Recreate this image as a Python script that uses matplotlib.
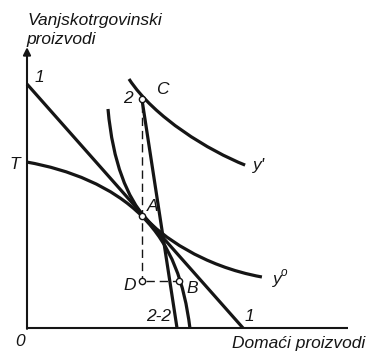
import matplotlib
matplotlib.use("Agg")
import matplotlib.pyplot as plt
from matplotlib.path import Path
from matplotlib.patches import PathPatch

INK = "#151515"

# Production possibility frontier T (cubic Bezier control points, two segments)
ppf_T = [(0.0, 5.53), (1.4, 5.28), (2.83, 4.73), (3.83, 3.73),
         (4.83, 2.73), (5.24, 1.5), (5.43, 0.0)]
# Indifference curve y0 (two cubic segments)
indiff_y0 = [(2.7, 7.3), (2.86, 5.5), (3.35, 4.34), (3.95, 3.66),
             (4.45, 3.095), (5.83, 2.06), (7.83, 1.7)]
# Indifference curve y' (one cubic segment)
indiff_y1 = [(3.4, 8.3), (4.25, 7.0), (6.07, 5.91), (7.27, 5.43)]

# Price lines
line_11 = [(0.0, 8.13), (7.2, 0.0)]
line_22 = [(3.83, 7.63), (5.0, 0.0)]

# Marked points
pt_C = (3.83, 7.63)
pt_A = (3.83, 3.73)
pt_D = (3.83, 1.57)
pt_B = (5.07, 1.57)

# Labels: text, x, y, size
labels = [
    ("1", 0.4, 8.35, 12.5),
    ("T", -0.42, 5.45, 12.5),
    ("2", 3.35, 7.65, 12.5),
    ("C", 4.5, 7.95, 12.5),
    ("y'", 7.75, 5.4, 12.5),
    ("A", 4.18, 4.05, 12.5),
    ("y", 8.33, 1.6, 12.5),
    ("o", 8.55, 1.84, 8.5),
    ("B", 5.5, 1.3, 12.5),
    ("D", 3.42, 1.4, 12.5),
    ("2-2", 4.4, 0.37, 12.5),
    ("1", 7.4, 0.37, 12.5),
    ("0", -0.23, -0.45, 12.5),
]

fig = plt.figure(figsize=(3.73, 3.54), dpi=100)
ax = fig.add_axes([0, 0, 1, 1])
ax.set_xlim(-0.9, 11.533)
ax.set_ylim(-0.867, 10.933)
ax.axis("off")

def bezier(points, lw):
    codes = [Path.MOVETO] + [Path.CURVE4] * (len(points) - 1)
    patch = PathPatch(Path(points, codes), facecolor="none", edgecolor=INK,
                      lw=lw, capstyle="butt")
    ax.add_patch(patch)

curve_lw = 2.3
bezier(ppf_T, curve_lw)
bezier(indiff_y0, curve_lw)
bezier(indiff_y1, curve_lw)

ax.plot(*zip(*line_11), color=INK, lw=curve_lw, solid_capstyle="butt")
ax.plot(*zip(*line_22), color=INK, lw=curve_lw, solid_capstyle="butt")

# Axes
ax.plot([0, 10.7], [0, 0], color=INK, lw=1.5, solid_capstyle="butt")
ax.annotate("", xy=(0, 9.36), xytext=(0, -0.03),
            arrowprops=dict(arrowstyle="-|>", lw=1.5, color=INK,
                            mutation_scale=11, shrinkA=0, shrinkB=0))

# Dashed construction lines
dash = dict(color=INK, lw=1.0, linestyle=(0, (6, 3.5)))
ax.plot([pt_C[0], pt_D[0]], [pt_C[1] - 0.15, pt_D[1]], **dash)
ax.plot([pt_D[0] + 0.12, pt_B[0]], [pt_D[1], pt_B[1]], **dash)

for p in (pt_C, pt_A, pt_D, pt_B):
    ax.plot(*p, marker="o", ms=4.5, mfc="white", mec=INK, mew=1.0, zorder=5)

font = dict(family="Liberation Sans", style="italic", color=INK)
for txt, x, y, size in labels:
    ax.text(x, y, txt, ha="center", va="center", size=size, **font)

ax.text(0.03, 10.25, "Vanjskotrgovinski", ha="left", va="center", size=12.5, **font)
ax.text(-0.03, 9.6, "proizvodi", ha="left", va="center", size=12.5, **font)
ax.text(6.83, -0.53, "Domaći proizvodi", ha="left", va="center", size=12.5, **font)

fig.savefig("out.png", dpi=100, facecolor="white")
